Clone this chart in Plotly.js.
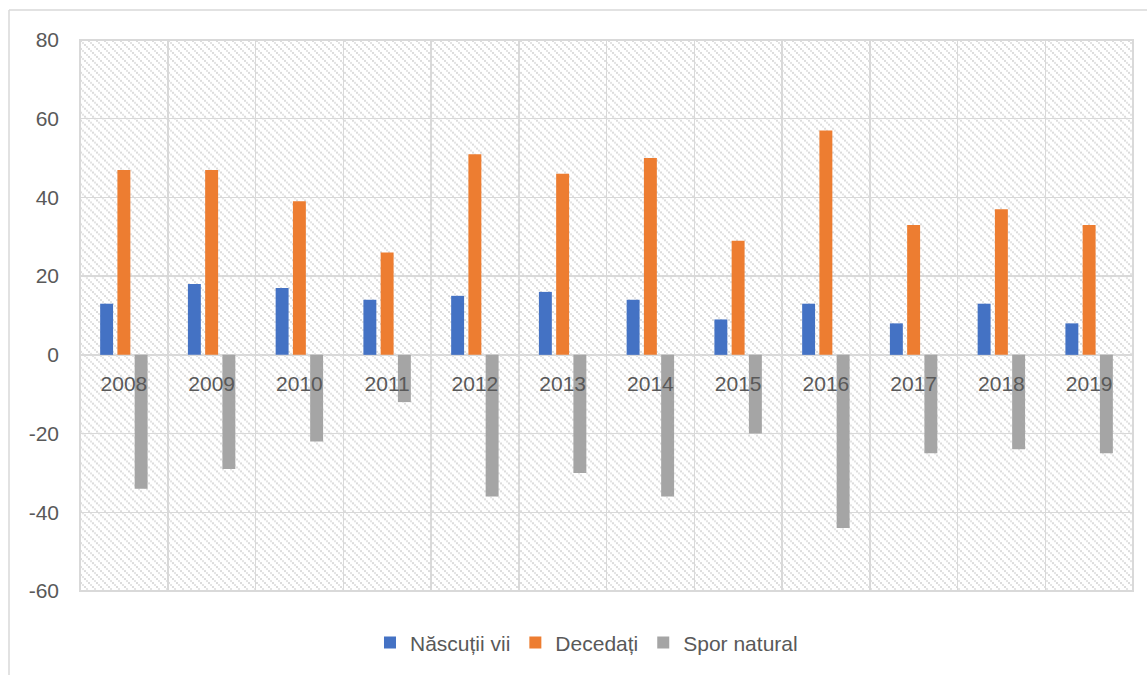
<!DOCTYPE html>
<html>
<head>
<meta charset="utf-8">
<script src="https://cdn.plot.ly/plotly-3.0.1.min.js"></script>
<style>html,body{margin:0;padding:0;background:#fff;}#chart{width:1147px;height:675px;}</style>
</head>
<body>
<div id="chart"></div>
<script>
const years = ['2008','2009','2010','2011','2012','2013','2014','2015','2016','2017','2018','2019'];
const nascuti = [13, 18, 17, 14, 15, 16, 14, 9, 13, 8, 13, 8];
const decedati = [47, 47, 39, 26, 51, 46, 50, 29, 57, 33, 37, 33];
const spor = [-34, -29, -22, -12, -36, -30, -36, -20, -44, -25, -24, -25];
const yTicks = [-60, -40, -20, 0, 20, 40, 60, 80];

const FONT = '"Liberation Sans", Arial, sans-serif';
const TXT = '#595959';
const GRID = '#d9d9d9';

// hatched background (Excel-like wide downward diagonal pattern)
const svg = '<svg xmlns="http://www.w3.org/2000/svg" width="1053" height="553" viewBox="0 0 1053 553" preserveAspectRatio="none">' +
  '<defs><pattern id="p" width="8" height="8" patternUnits="userSpaceOnUse">' +
  '<rect x="0" y="0" width="2" height="2" fill="#dcdcdc"/>' +
  '<rect x="2" y="2" width="2" height="2" fill="#e4e4e4"/>' +
  '<rect x="4" y="4" width="2" height="2" fill="#dcdcdc"/>' +
  '<rect x="6" y="6" width="2" height="2" fill="#e4e4e4"/>' +
  '</pattern></defs><rect width="1053" height="553" fill="#ffffff"/><rect width="1053" height="553" fill="url(#p)"/></svg>';
const bgSrc = 'data:image/svg+xml;charset=utf-8,' + encodeURIComponent(svg);

const traces = [
  {type:'bar', name:'Născuții vii', x:years, y:nascuti, marker:{color:'#4472c4'}},
  {type:'bar', name:'Decedați', x:years, y:decedati, marker:{color:'#ed7d31'}},
  {type:'bar', name:'Spor natural', x:years, y:spor, marker:{color:'#a5a5a5'}}
];

const zeroPos = 60 / 140;

const layout = {
  width:1147, height:675,
  margin:{l:80, r:14, t:40, b:82},
  paper_bgcolor:'#ffffff',
  plot_bgcolor:'rgba(0,0,0,0)',
  barmode:'group',
  bargap:0.41,
  bargroupgap:0.25,
  font:{family:FONT, size:21, color:TXT},
  showlegend:true,
  legend:{orientation:'h', x:0.481, xanchor:'center', y:-0.094, yanchor:'middle',
          font:{family:FONT, size:21, color:TXT}, traceorder:'normal', itemwidth:30},
  xaxis:{type:'category', anchor:'free', position:zeroPos, tickson:'boundaries',
         showgrid:true, gridcolor:GRID, gridwidth:1.5, ticks:'', showline:false,
         ticklabelstandoff:14, tickfont:{family:FONT, size:21, color:TXT}, fixedrange:true},
  yaxis:{range:[-60,80], tickvals:yTicks, ticktext:yTicks.map(String), showgrid:true,
         gridcolor:GRID, gridwidth:1.5, zeroline:true, zerolinecolor:GRID, zerolinewidth:1.5,
         showline:false, ticks:'', ticklabelstandoff:20,
         tickfont:{family:FONT, size:21, color:TXT}, fixedrange:true},
  images:[{source:bgSrc, xref:'paper', yref:'paper', x:0, y:1, sizex:1, sizey:1,
           sizing:'stretch', xanchor:'left', yanchor:'top', layer:'below'}],
  shapes:[
    {type:'rect', xref:'paper', yref:'paper', x0:0, x1:1, y0:0, y1:1, line:{color:GRID, width:2}, layer:'above'},
    {type:'line', xref:'paper', yref:'paper', x0:(9-80)/1053, x1:1.02, y0:1+30/553, y1:1+30/553, line:{color:GRID, width:1.5}},
    {type:'line', xref:'paper', yref:'paper', x0:(9-80)/1053, x1:(9-80)/1053, y0:1+30/553, y1:-0.2, line:{color:GRID, width:1.5}}
  ]
};

Plotly.newPlot('chart', traces, layout, {displayModeBar:false, staticPlot:true});
</script>
</body>
</html>
